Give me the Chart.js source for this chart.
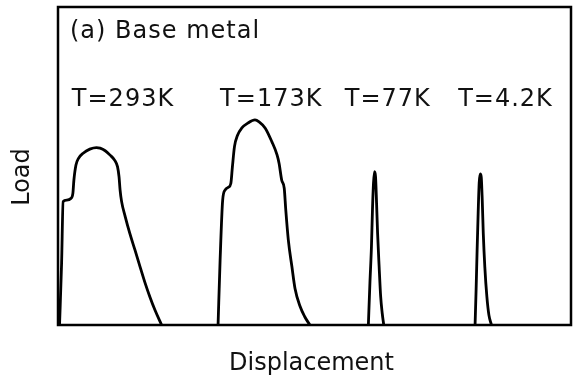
<!DOCTYPE html>
<html>
<head>
<meta charset="utf-8">
<title>Base metal load-displacement curves</title>
<script src="https://cdn.jsdelivr.net/npm/chart.js@4.4.1/dist/chart.umd.min.js"></script>
<style>
  html, body { margin: 0; padding: 0; background: #fff; }
  #wrap { width: 575px; height: 381px; }
</style>
</head>
<body>
<div id="wrap"><canvas id="c" width="575" height="381"></canvas></div>
<script>
// Load-displacement records of the base metal at four test temperatures
// (arbitrary units: displacement 0-10, load 0-10)
const temperatures = ['T=293K', 'T=173K', 'T=77K', 'T=4.2K'];

const disp293 = [0.03, 0.07, 0.10, 0.17, 0.25, 0.29, 0.31, 0.35, 0.40, 0.49, 0.62, 0.75, 0.82, 0.92, 1.01, 1.11, 1.16, 1.19, 1.21, 1.24, 1.31, 1.40, 1.50, 1.60, 1.70, 1.79, 1.89, 2.02];
const load293 = [0.00, 1.94, 3.88, 3.93, 3.98, 4.14, 4.56, 5.03, 5.24, 5.40, 5.53, 5.58, 5.56, 5.48, 5.35, 5.17, 4.98, 4.66, 4.25, 3.88, 3.41, 2.88, 2.36, 1.83, 1.31, 0.89, 0.47, 0.00];

const disp173 = [3.12, 3.16, 3.21, 3.26, 3.32, 3.37, 3.40, 3.44, 3.50, 3.58, 3.71, 3.84, 3.92, 4.04, 4.17, 4.27, 4.31, 4.36, 4.41, 4.44, 4.49, 4.56, 4.62, 4.72, 4.81, 4.91];
const load173 = [0.00, 2.04, 3.93, 4.25, 4.33, 4.46, 4.98, 5.61, 5.97, 6.19, 6.36, 6.45, 6.39, 6.19, 5.76, 5.35, 5.08, 4.56, 4.30, 3.62, 2.67, 1.83, 1.15, 0.58, 0.26, 0.00];

const disp77 = [6.05, 6.08, 6.11, 6.13, 6.15, 6.17, 6.19, 6.21, 6.23, 6.26, 6.29, 6.32, 6.35];
const load77 = [0.00, 1.31, 2.46, 3.62, 4.46, 4.82, 4.66, 3.83, 2.88, 1.83, 0.89, 0.37, 0.00];

const disp4 = [8.13, 8.15, 8.17, 8.19, 8.21, 8.23, 8.25, 8.27, 8.29, 8.32, 8.36, 8.40, 8.45];
const load4 = [0.00, 1.10, 2.36, 3.51, 4.46, 4.75, 4.66, 3.93, 2.88, 1.83, 0.89, 0.31, 0.00];

// label positions along the displacement axis (left edge of each label)
const labelDisp = [0.27, 3.16, 5.59, 7.80];
const labelLoad = 6.9;

function toPoints(xs, ys) {
  return xs.map((x, i) => ({ x: x, y: ys[i] }));
}

const series = [
  toPoints(disp293, load293),
  toPoints(disp173, load173),
  toPoints(disp77, load77),
  toPoints(disp4, load4)
];

const FONT = '"DejaVu Sans", "Liberation Sans", sans-serif';

// frame, panel title, temperature labels and axis titles
const annotate = {
  id: 'annotate',
  afterDatasetsDraw(chart) {
    const { ctx, chartArea: a, scales } = chart;
    ctx.save();
    ctx.strokeStyle = '#000';
    ctx.lineWidth = 2.5;
    ctx.strokeRect(a.left, a.top, a.right - a.left, a.bottom - a.top);

    ctx.fillStyle = '#111';
    ctx.font = '24px ' + FONT;
    ctx.textAlign = 'left';
    ctx.textBaseline = 'alphabetic';
    ctx.letterSpacing = '1px';
    ctx.fillText('(a) Base metal', a.left + 12, a.top + 31);

    temperatures.forEach((t, i) => {
      const x = scales.x.getPixelForValue(labelDisp[i]);
      const y = scales.y.getPixelForValue(labelLoad);
      ctx.fillText(t, x, y);
    });

    ctx.letterSpacing = '0px';
    ctx.textAlign = 'center';
    ctx.fillText('Displacement', (a.left + a.right) / 2 - 3, 370);

    ctx.translate(23, (a.top + a.bottom) / 2 + 11);
    ctx.rotate(-Math.PI / 2);
    ctx.textBaseline = 'middle';
    ctx.fillText('Load', 0, 0);
    ctx.restore();
  }
};

new Chart(document.getElementById('c'), {
  type: 'scatter',
  data: {
    datasets: series.map((pts, i) => ({
      label: temperatures[i],
      data: pts,
      showLine: true,
      borderColor: '#000',
      borderWidth: 2.8,
      pointRadius: 0,
      cubicInterpolationMode: 'monotone',
      fill: false
    }))
  },
  options: {
    responsive: false,
    animation: false,
    layout: { padding: { left: 58, top: 7, right: 4, bottom: 56 } },
    plugins: { legend: { display: false }, tooltip: { enabled: false } },
    scales: {
      x: { type: 'linear', min: 0, max: 10, display: false },
      y: { type: 'linear', min: 0, max: 10, display: false }
    }
  },
  plugins: [annotate]
});
</script>
</body>
</html>
